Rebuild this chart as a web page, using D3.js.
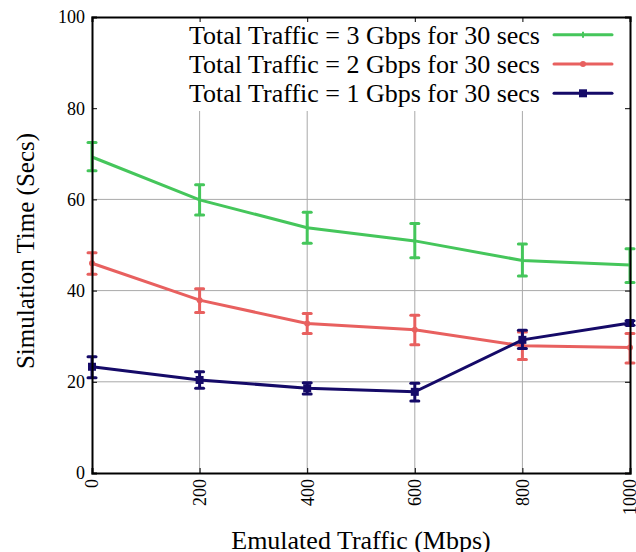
<!DOCTYPE html>
<html>
<head>
<meta charset="utf-8">
<script src="https://cdn.jsdelivr.net/npm/d3@7"></script>
<style>
  html, body { margin: 0; padding: 0; background: #fff; }
  svg { display: block; }
  text { font-family: "Liberation Serif", "Times New Roman", serif; fill: #000; }
</style>
</head>
<body>
<svg id="chart" width="636" height="552"></svg>
<script>
// Emulated traffic levels (Mbps)
const traffic = [0, 200, 400, 600, 800, 1000];

// Mean simulation time (secs) and error bar extents per total traffic setting
const sim3Mean = [69.3, 59.9, 53.8, 50.9, 46.6, 45.6];
const sim3Low  = [66.3, 56.6, 50.4, 47.2, 43.2, 41.8];
const sim3High = [72.5, 63.2, 57.2, 54.7, 50.2, 49.2];

const sim2Mean = [46.0, 37.9, 32.8, 31.4, 27.9, 27.5];
const sim2Low  = [43.6, 35.2, 30.6, 28.1, 24.9, 24.1];
const sim2High = [48.3, 40.4, 35.0, 34.6, 30.9, 30.6];

const sim1Mean = [23.3, 20.4, 18.6, 17.8, 29.2, 32.9];
const sim1Low  = [20.9, 18.6, 17.3, 15.8, 27.3, 32.4];
const sim1High = [25.5, 22.2, 19.8, 19.7, 31.3, 33.4];

const seriesNames = [
  "Total Traffic = 3 Gbps for 30 secs",
  "Total Traffic = 2 Gbps for 30 secs",
  "Total Traffic = 1 Gbps for 30 secs"
];

const xTicks = [0, 200, 400, 600, 800, 1000];
const yTicks = [0, 20, 40, 60, 80, 100];

const series = [
  { name: seriesNames[0], mean: sim3Mean, low: sim3Low, high: sim3High, color: "#45c65b", marker: "tick" },
  { name: seriesNames[1], mean: sim2Mean, low: sim2Low, high: sim2High, color: "#e8605f", marker: "circle" },
  { name: seriesNames[2], mean: sim1Mean, low: sim1Low, high: sim1High, color: "#150a68", marker: "square" }
];

const margin = { left: 92, right: 6, top: 17, bottom: 79 };
const W = 636, H = 552;
const svg = d3.select("#chart");

const x = d3.scaleLinear().domain([0, 1000]).range([margin.left, W - margin.right]);
const y = d3.scaleLinear().domain([0, 100]).range([H - margin.bottom, margin.top]);

// Grid lines
const grid = svg.append("g");
grid.selectAll("line.gx").data(xTicks.slice(1, -1)).join("line")
  .attr("x1", d => x(d)).attr("x2", d => x(d))
  .attr("y1", y(0)).attr("y2", y(100))
  .attr("stroke", "#a9a9a9").attr("stroke-width", 1);
grid.selectAll("line.gy").data(yTicks.slice(1, -1)).join("line")
  .attr("x1", x(0)).attr("x2", x(1000))
  .attr("y1", d => y(d)).attr("y2", d => y(d))
  .attr("stroke", "#a9a9a9").attr("stroke-width", 1);

const line = d3.line().x(d => x(d[0])).y(d => y(d[1]));

function drawMarker(g, m, cx, cy, color) {
  if (m === "circle") {
    g.append("circle").attr("cx", cx).attr("cy", cy).attr("r", 3).attr("fill", color);
  } else if (m === "square") {
    g.append("rect").attr("x", cx - 4).attr("y", cy - 4).attr("width", 8).attr("height", 8).attr("fill", color);
  } else {
    g.append("line").attr("x1", cx).attr("x2", cx).attr("y1", cy - 3).attr("y2", cy + 3)
      .attr("stroke", color).attr("stroke-width", 2);
  }
}

// Series lines with error bars
series.forEach(s => {
  const g = svg.append("g");
  const pts = traffic.map((t, j) => [t, s.mean[j]]);
  g.append("path").datum(pts)
    .attr("d", line).attr("fill", "none")
    .attr("stroke", s.color).attr("stroke-width", 3);

  traffic.forEach((t, j) => {
    const cx = x(t);
    g.append("line").attr("x1", cx).attr("x2", cx)
      .attr("y1", y(s.low[j])).attr("y2", y(s.high[j]))
      .attr("stroke", s.color).attr("stroke-width", 3);
    [s.low[j], s.high[j]].forEach(v => {
      g.append("line").attr("x1", cx - 4).attr("x2", cx + 4)
        .attr("y1", y(v)).attr("y2", y(v))
        .attr("stroke", s.color).attr("stroke-width", 3).attr("stroke-linecap", "round");
    });
    drawMarker(g, s.marker, cx, y(s.mean[j]), s.color);
  });
});

// Opaque legend box (hides grid behind it)
svg.append("rect")
  .attr("x", x(0) + 1).attr("y", y(100) + 1)
  .attr("width", x(1000) - x(0) - 2).attr("height", 93)
  .attr("fill", "#fff");

series.forEach((s, i) => {
  const ly = 34.7 + i * 29.3;
  svg.append("text")
    .attr("x", 540).attr("y", ly).attr("dy", "0.34em")
    .attr("text-anchor", "end").attr("font-size", 26)
    .text(s.name);
  svg.append("line")
    .attr("x1", 554).attr("x2", 612).attr("y1", ly).attr("y2", ly)
    .attr("stroke", s.color).attr("stroke-width", 3).attr("stroke-linecap", "round");
  drawMarker(svg, s.marker, 583, ly, s.color);
});

// Axes with inward ticks on every side
const axB = svg.append("g").attr("transform", `translate(0,${y(0)})`)
  .call(d3.axisBottom(x).tickValues(xTicks).tickSize(-5).tickFormat(""));
const axT = svg.append("g").attr("transform", `translate(0,${y(100)})`)
  .call(d3.axisTop(x).tickValues(xTicks).tickSize(-5).tickFormat(""));
const axL = svg.append("g").attr("transform", `translate(${x(0)},0)`)
  .call(d3.axisLeft(y).tickValues(yTicks).tickSize(-5).tickFormat(""));
const axR = svg.append("g").attr("transform", `translate(${x(1000)},0)`)
  .call(d3.axisRight(y).tickValues(yTicks).tickSize(-5).tickFormat(""));
[axB, axT, axL, axR].forEach(g => {
  g.select(".domain").attr("stroke", "#000").attr("stroke-width", 2);
  g.selectAll(".tick line").attr("stroke", "#000").attr("stroke-width", 1);
});

// Tick labels
svg.append("g").selectAll("text").data(yTicks).join("text")
  .attr("x", x(0) - 7).attr("y", d => y(d)).attr("dy", "0.35em")
  .attr("text-anchor", "end").attr("font-size", 18)
  .text(d => d);
svg.append("g").selectAll("text").data(xTicks).join("text")
  .attr("transform", d => `translate(${x(d)},${y(0) + 6}) rotate(-90)`)
  .attr("dy", "0.35em")
  .attr("text-anchor", "end").attr("font-size", 18)
  .text(d => d);

// Axis titles
svg.append("text")
  .attr("x", (x(0) + x(1000)) / 2).attr("y", 549)
  .attr("text-anchor", "middle").attr("font-size", 26)
  .text("Emulated Traffic (Mbps)");
svg.append("text")
  .attr("transform", `translate(34,${(y(0) + y(100)) / 2 + 6}) rotate(-90)`)
  .attr("text-anchor", "middle").attr("font-size", 25)
  .text("Simulation Time (Secs)");
</script>
</body>
</html>
